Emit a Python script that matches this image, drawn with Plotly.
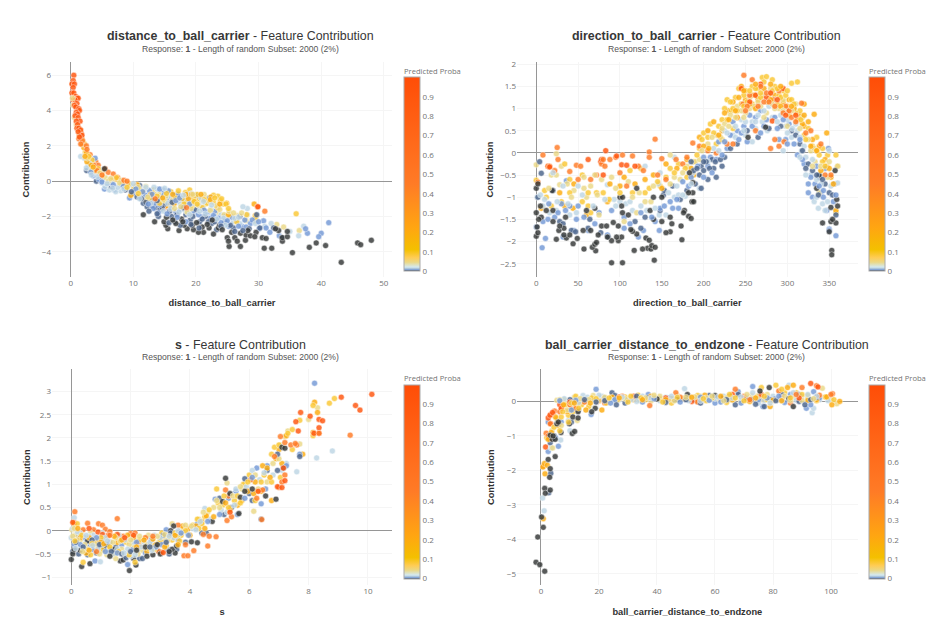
import plotly.graph_objects as go

W, H = 947, 636
features = ["distance_to_ball_carrier", "direction_to_ball_carrier", "s", "ball_carrier_distance_to_endzone"]
subtitle = "Response: <b>1</b> - Length of random Subset: 2000 (2%)"
colorbar_title = "Predicted Proba"
tick_vals = [0, 0.1, 0.2, 0.3, 0.4, 0.5, 0.6, 0.7, 0.8, 0.9]
proba_levels = {"dark": 0.0, "navy": 0.003, "blue": 0.006, "pale": 0.016, "cream": 0.045,
                "yellow": 0.085, "amber": 0.2, "orange": 0.45, "red": 0.9}
scale_colors = ["rgb(52,55,54)", "rgb(74,99,138)", "rgb(116,153,214)", "rgb(162,188,213)", "rgb(212,234,242)",
                "rgb(235,216,134)", "rgb(255,204,83)", "rgb(244,192,0)", "rgb(255,166,17)", "rgb(255,123,38)", "rgb(255,77,7)"]
scale_stops = [0, 0.003, 0.006, 0.011, 0.02, 0.045, 0.07, 0.11, 0.22, 0.45, 1]

# ---- distance_to_ball_carrier
d1_dark = [(43.2,-4.6),(35.4,-4.05),(48,-3.35),(45.8,-3.5),(46.3,-3.6),(40.7,-3.65),(38.1,-3.75),(39.2,-3.5),(32.1,-3.8),(30.9,-3.8),(25.3,-3.7),(27.1,-3.7),(25,-3.2),(25.2,-3.4),(26.2,-3.2),(26.6,-3.4),(27.9,-3.35),(30.6,-3.2),(31.2,-3.25),(33.8,-3.4),(33.8,-3.2),(34.6,-3.15),(34.6,-2.85),(29.6,-2.9),(28,-3.05),(28.7,-3.1),(29.4,-3.15),(25.7,-2.9),(27.1,-2.95),(22.8,-3),(21.2,-2.9),(20.4,-2.9),(19.6,-2.75),(18.6,-2.7),(17.3,-2.8),(15.5,-2.7),(15.2,-2.5),(13.4,-2.3),(11.6,-1.9),(14.9,-2.3),(15.3,-2.05),(17.7,-2.15),(18.1,-2.5),(19.4,-2.5),(21,-2.6),(22.1,-2.65),(23.6,-2.65),(23.8,-2.5),(5.4,0.7),(33.2,-2.8),(32.7,-2.7),(16.8,-2.4),(20.1,-2.35),(21.8,-2.45),(24.2,-2.75),(28.3,-2.8),(17.9,-2.3),(22.6,-2.2),(16.3,-2.2)]
d1_navy = [(13.6,-1.5),(14.3,-1.6),(11.6,-1.25),(12.2,-1.45),(16.1,-2),(16.6,-2.3),(19.1,-2.2),(20.6,-2.3),(22.5,-2.4),(23.3,-2.75),(26,-2.65),(32.4,-2.65),(33.7,-3.2),(8.7,-.5),(4.1,0),(2.55,.6),(6.5,-.3),(11,-.25),(14.8,-.85),(12.9,-1.05),(20,-1.6),(27,-2),(30.2,-2.65),(29.7,-1.9),(15,-1.3),(13,-1.4),(18.4,-1.9),(21.5,-2),(24.6,-2.3),(10.6,-.9),(11.3,-1),(12,-1.2),(14.6,-1.5),(15.8,-1.7),(17,-1.9),(19.5,-2),(21,-2.15),(23,-2.3),(25.5,-2.5),(28.5,-2.7),(16.2,-1.2),(18,-1.5),(13.8,-1.1),(9.7,-.6),(14,-2),(15.7,-2.35),(17.5,-2.5),(19.2,-2.45),(20.5,-2.65),(22,-2.3),(24,-2.55),(26.2,-2.85),(27.5,-2.8),(12.5,-1.7),(13.8,-1.85)]
d1_blue = [(41.2,-2.35),(40,-2.95),(39.6,-3.15),(37.8,-2.95),(37.5,-2.7),(33.3,-3.1),(30.8,-2.25),(30.1,-2.7),(31.2,-2.65),(28.7,-2.4),(27.3,-2.55),(25.2,-2.55),(22.3,-2.1),(21,-2),(16.1,-1.45),(14.8,-.5),(13.2,-.7),(10,-.7),(9.4,-.95),(7,-.5),(5.4,-.45),(3.6,.3),(3.9,1.3),(18,-1.1),(16.5,-.8),(19.5,-1.7),(12,-.8),(14,-1),(15.5,-1),(17.5,-1.6),(20.5,-1.4),(23,-1.7),(24.5,-2),(26.5,-2.2),(29,-2.2),(28,-2.6),(31.8,-2.9),(11,-.4),(4.5,.1),(6,-.1),(13.4,-1.25),(15,-.75),(16.8,-1.75),(18.8,-1.85),(20,-.8),(21.8,-1.75),(23.6,-2.1),(25.8,-2.05),(27.8,-2.2),(17.2,-.75),(18.9,-.75),(22.2,-.95),(12.6,-.55),(14.2,-1.35),(10.4,-.45),(8.4,-.3),(6.8,-.2),(5,-.05),(3.2,.5),(11.5,-.6),(13,-.75),(14.2,-.45),(15.6,-.55),(16.8,-1.1),(17.4,-.95),(19,-1.3),(20.4,-1.9),(21.3,-1.65),(22.8,-1.95),(24,-2.35),(25,-2.25),(26.8,-2.55),(18.4,-2.3),(17,-2.05),(15.4,-1.85),(14,-1.8),(13.2,-1.55),(12.4,-1.3),(30,-2.3)]
d1_pale = [(35,-2.85),(36.4,-3.1),(37.2,-2.55),(28.2,-1.55),(28.2,-1.9),(27.5,-1.45),(32,-2.4),(31,-2.55),(26,-2.3),(24,-1.9),(22,-1.8),(20,-1.75),(18.5,-1.4),(17,-1.2),(14.5,-.7),(13,-.9),(11.5,-.75),(10.5,-.55),(9,-.4),(8,-.55),(7.2,-.6),(6.2,-.5),(5.5,-.3),(4.8,.1),(4,.5),(3.5,.7),(2.8,.9),(2.2,1.3),(1.6,1.4),(3,1),(6.5,-.1),(8,-.2),(25,-2.2),(23,-2),(21,-1.5),(19,-1),(16,-.9),(12.5,-.5),(9.5,-.2),(7.5,-.35),(5,-.1),(29.5,-2.4),(27,-2.4),(17.5,-1.3),(15.5,-1.25),(18.2,-1.65),(19.8,-1.25),(22.4,-1.55),(24.4,-2.1),(26.2,-2.1),(20.8,-.95),(13.8,-.45),(12,-.35),(10,-.15),(8.5,-.45),(6.7,-.4),(5.8,-.15),(4.3,.25),(3.3,.35),(2.5,.75),(11,-1),(12.8,-1.25),(14.8,-1.7),(16,-1.55),(17.3,-1.75),(19,-1.9),(20.6,-1.7),(21.5,-1.85),(23.3,-2.15),(24.7,-2.5),(26.8,-2.05),(18,-.8),(19.3,-.7),(21.2,-1.15),(22.5,-1.35),(15,-.4),(13.3,-.35)]
d1_cream = [(36.5,-2.8),(34,-2.6),(32.9,-2.45),(26.5,-1.95),(28,-2.25),(25,-2.1),(23.5,-1.8),(20.5,-1.1),(17,-.7),(15.8,-.6),(12,-.3),(9,-.1),(7,.1),(5.5,.2),(4.2,.8),(3.5,1.1),(2.3,1.6),(1.9,2.2),(1.2,2.9),(.9,3.2),(.6,3.6),(.4,4.3),(.3,4.7),(18.5,-1.2),(14,-.7),(21.5,-1.3),(11,-.5),(8,.05),(6,0),(24.5,-1.9),(2.7,1.3),(3.2,.6),(16.2,-1.1),(19.2,-1.55),(22.3,-1.65),(15.2,-.85),(13.4,-.75),(10.8,-.35),(7.8,-.1),(6.4,.15),(4.7,.45),(23.2,-1.4),(17.6,-1.45),(12.3,-.9),(14.8,-1.05),(16.6,-1.55),(18.6,-1.75),(20.3,-1.35),(21.3,-.75),(22.2,-1.15),(23.8,-1.6),(25.3,-1.7),(26,-1.8),(27.3,-1.8),(19.5,-.75)]
d1_yellow = [(36,-1.85),(29.5,-2.25),(29.5,-2.05),(25.5,-1.95),(24.4,-1.3),(23.5,-.85),(22.8,-.8),(22,-.95),(20.5,-1),(19,-.5),(18.5,-.9),(16,-.6),(13.2,-.5),(11.5,-.6),(10,-.3),(8,-.2),(6.2,.05),(5,.5),(4.4,.7),(3.4,1.2),(2.4,1.7),(1.8,2.4),(2.2,2.1),(19.4,-1.4),(17.8,-1),(24.8,-1.3),(21,-1.5),(22.8,-1.2),(15,-1.1),(9.3,-.15),(12.5,-1),(7.3,.2),(2.9,1.4),(1.5,2.9),(1.1,3.1),(26.5,-2.3),(28.1,-1.9),(20.2,-.75),(19.6,-.95),(18.1,-1.3),(16.7,-.95),(14.2,-1.25),(23.9,-1.1),(21.8,-1.25),(10.8,-.7),(9,-.35),(13.8,-.85),(15.3,-.7),(17.2,-.55),(18.3,-.65),(19.7,-1.15),(21.3,-1.05),(20.2,-1.3),(23,-.95),(24.1,-1),(25.2,-1.55)]
d1_amber = [(29.3,-1.3),(29.5,-1.95),(24.9,-1.25),(21.5,-1),(20,-1),(19,-1.35),(18,-1.2),(17,-.9),(15.5,-1.4),(13.5,-.9),(12,-1.1),(9.6,-.8),(7.5,.1),(6.5,.05),(5,.3),(3.9,.6),(3.2,.9),(2.6,1.1),(2.1,1.9),(1.8,2.1),(2.5,1.6),(1.4,2.6),(4.6,.45),(8.3,-.1),(23.5,-1.5),(16.5,-1.3),(10.6,-.2),(12.8,-.75),(22.4,-.9),(19.8,-1.15),(18.8,-1),(25.2,-1.9),(3.6,.8),(2.3,1.4),(14.7,-.95),(16.3,-.75),(18.4,-.75),(20.8,-.75),(22.3,-1.05),(23.8,-1.3),(19.3,-.75)]
d1_orange = [(31,-1.7),(17,-1.1),(16,-1.3),(15,-1.5),(3.1,1.5),(3,1.1),(4,1.1),(4.4,.9),(3.7,.9),(5.5,.7),(6,.5),(6.8,.4),(7.5,.2),(4.2,.6),(1.7,2.7),(1.3,2.4),(1.9,2.3),(2.5,2),(1.6,2.1),(2.6,1.8),(8.5,.05),(9,0),(18.5,-1.5),(13.5,-1),(29.8,-1.45),(5,.35)]
d1_red = [(.5,6),(.4,5.7),(.2,5.5),(.6,5.5),(.4,5.3),(.2,5),(.5,5),(.8,4.8),(1,4.7),(1.2,4.7),(.4,4.6),(.7,4.6),(1,4.4),(.6,4.3),(.8,4.2),(1.3,4.1),(1.4,4),(.9,3.9),(1.1,3.8),(.7,3.7),(1.2,3.6),(1.5,3.4),(.9,3.4),(1.1,3.2),(1,3),(1.3,3),(1.6,2.9),(1.8,2.6),(1.2,2.8),(1.4,2.5),(29.9,-1.45)]

# ---- direction_to_ball_carrier
d2_dark = [(90,-2.48),(103,-2.48),(141,-2.42),(353,-2.2),(353,-2.3),(0,-1.88),(2,-1.8),(1,-1.67),(24,-1.95),(49,-1.93),(44,-2.05),(36,-1.92),(57,-2.17),(71,-2.21),(67,-2.13),(70,-2.06),(72,-2.02),(98,-1.98),(102,-1.9),(90,-1.98),(117,-2.2),(120,-1.83),(133,-2.15),(127,-2.17),(131,-1.92),(137,-2.17),(138,-2.09),(142,-2.13),(135,-1.97),(174,-1.96),(160,-1.78),(155,-1.8),(173,-1.65),(177,-1.3),(176,-1.35),(182,-1.43),(185,-1.48),(160,-1.45),(162,-1.6),(150,-1.55),(140,-1.5),(136,-1.3),(103,-1.35),(110,-1.4),(115,-1.77),(113,-1.73),(92,-1.57),(98,-1.65),(96,-1.9),(85,-1.9),(74,-1.85),(65,-1.75),(60,-1.3),(70,-1.25),(56,-1.75),(40,-1.85),(33,-1.7),(27,-1.75),(33,-1.85),(20,-1.55),(20,-1.3),(12,-1.3),(6,-1.45),(3,-1.5),(5,-1.2),(0,-.8),(2,-.7),(19,-.85),(0,-1.35),(352,-1.55),(358,-1.58),(354,-1.5),(352,-1.23),(360,-1.2),(359,-1.05),(357,-.4),(342,-1.58),(350,-1.78),(338,-.5),(186,-1.1),(187,-.9),(182,-.9),(188,-1.1),(150,-1),(140,-1),(100,-1),(103,-1),(102,-1.2),(120,-.8),(183,-.45),(187,-.67),(335,-.8),(274,.58),(253,.35),(35,-1.45),(28,-1.65),(78,-1.65),(84,-1.65)]
d2_navy = [(4,-.2),(6,-.46),(2,-1),(20,-.85),(28,-1.55),(32,-1.6),(42,-1.75),(47,-1.78),(62,-1.7),(64,-1.5),(77,-1.8),(86,-1.9),(118,-1.55),(125,-1.7),(130,-1.45),(148,-1.3),(152,-.95),(153,-.85),(163,-.75),(180,-.85),(185,-.2),(197,-.3),(200,-.4),(205,-.6),(212,-.35),(222,-.3),(210,-.15),(195,-.5),(190,-.7),(172,-1.05),(232,.1),(240,.2),(252,.5),(265,.35),(292,.6),(305,.5),(315,.2),(325,-.25),(330,-.4),(338,-.55),(345,-.7),(350,-.9),(354,-.95),(358,-1.4),(197,-.8),(203,-.2),(215,-.55),(225,-.1),(278,.55),(310,.4),(200,-.2),(207,-.35),(214,-.2),(220,-.15),(188,-.4),(192,-.35),(318,.05),(322,-.35),(335,-.5),(342,-.6),(337,-.95)]
d2_blue = [(11,-1.93),(7,-2.14),(36,-.63),(0,-1.67),(8,-1.55),(14,-1.5),(32,-1.9),(45,-1.75),(62,-1.75),(75,-1.35),(85,-1.85),(105,-1.45),(122,-1.9),(128,-1.75),(142,-1.55),(147,-1.75),(163,-1.25),(170,-1.25),(358,-1.87),(350,-1.72),(350,-1.75),(349,.1),(356,-.7),(355,-1.1),(347,-1.3),(340,-.9),(330,-1),(325,-.9),(320,-.25),(312,-.05),(298,.3),(290,.3),(272,.6),(262,.8),(255,.85),(248,.6),(240,.5),(235,.7),(228,.1),(218,.25),(208,-.1),(200,-.1),(193,-.3),(182,-.75),(175,-.65),(160,-1.1),(148,-1.25),(112,-1.6),(50,-1.2),(40,-1.2),(30,-1.15),(22,-1.45),(302,.65),(285,.8),(268,.95),(345,-.35),(335,-.3),(258,.6),(245,.45),(232,.4),(225,.25),(215,-.15),(205,-.3),(275,.75),(295,.75),(308,.2),(318,-.15),(328,-.55),(333,-.7),(343,-.85),(15,-1.15),(26,-1.35),(35,-1.3),(48,-1.5),(57,-1.45),(70,-1.6),(90,-1.3),(105,-1.7),(125,-1.35),(138,-1.45),(153,-1.2),(168,-1.05),(185,-.55),(200,-.55),(210,-.45),(222,-.05),(242,.3),(252,.25),(268,.45),(288,.55),(300,.2),(315,.3),(325,-.7),(338,-.75),(343,-1),(358,-.95)]
d2_pale = [(1,-1),(8,-1.2),(16,-1.35),(24,-1.3),(40,-1.4),(48,-1.35),(50,-.75),(85,-.72),(93,-1.05),(100,-1.1),(107,-1.15),(115,-1.3),(132,-1.3),(147,-1.4),(155,-1.4),(165,-1),(178,-.98),(170,-.95),(130,-.3),(146,-.7),(148,-.45),(165,-.1),(20,-.45),(32,-.75),(5,-.95),(10,-1.05),(250,.4),(258,.25),(262,.55),(270,.7),(282,.8),(295,.05),(298,.6),(305,.35),(310,.65),(317,.05),(322,-.1),(328,-.5),(332,-1.1),(337,-1.25),(345,-1.3),(352,-.75),(360,-.68),(350,.05),(225,.5),(235,.4),(245,.75),(258,.7),(278,1.05),(285,1.2),(212,.1),(205,-.2),(187,-.45),(195,-.8),(175,-.95),(250,.7),(265,.85),(272,.95),(292,.85),(300,.75),(312,.5),(238,.6),(228,.45),(218,.05),(335,-1.0),(322,-.5),(315,-.1),(340,-.7),(238,.35),(248,.5),(262,.7),(276,.5),(288,.7),(300,.45),(306,.55),(315,.35),(320,.15),(330,-.15),(335,-.6),(342,-1.15),(348,-1.1),(25,-1.1),(38,-1.15),(55,-.95),(68,-1.2),(82,-1.05),(95,-1.2),(112,-1.1),(125,-1.2),(142,-1.25),(158,-.9),(168,-.75),(185,-.7)]
d2_cream = [(0,-.27),(24,-.02),(30,-.3),(18,-.5),(24,-.5),(28,-.72),(37,-.7),(45,-.85),(57,-.55),(57,-.8),(60,-1),(73,-.95),(75,-1.4),(78,-.6),(70,-.5),(90,-.55),(110,-.65),(123,-.9),(130,-1.1),(137,-1.1),(120,-1.35),(105,-1.55),(160,-.05),(165,-.55),(172,-.6),(180,-.3),(190,-.2),(195,-.15),(205,.2),(215,.4),(225,.65),(232,.85),(240,1.05),(250,.9),(255,1),(265,1.15),(275,.9),(290,1),(300,.9),(310,1.1),(318,.8),(325,.3),(333,-.2),(338,-.9),(348,-.55),(360,-.3),(255,1.25),(270,1.3),(280,1.45),(295,1.2),(245,.95),(260,1.05),(282,1.1),(300,.6),(285,1),(238,.8),(222,.55),(210,.35),(198,.05),(328,.05),(332,.1),(220,.35),(230,.6),(248,.8),(268,1.05),(272,.8),(295,.95),(305,.95),(315,.55),(330,-.3),(340,-.3),(350,-.2),(15,-.8),(42,-1),(65,-.75),(95,-.8),(115,-1),(140,-.75),(160,-.7),(175,-.45)]
d2_yellow = [(0,-.62),(10,-.85),(12,-1),(18,-1.2),(30,-1.1),(34,-.25),(40,-.6),(55,-.5),(55,-1.1),(62,-1.2),(65,-1.35),(72,-.9),(87,-1.05),(112,-.4),(125,-.35),(130,-.9),(148,-.75),(155,-.55),(160,-.35),(170,-.25),(180,-.55),(188,-.2),(195,.1),(200,.45),(208,.65),(215,.2),(222,.75),(228,1.2),(233,.95),(238,1.25),(242,1.45),(250,1.4),(258,1.5),(262,1.3),(270,1.7),(275,1.72),(272,1.6),(282,1.65),(285,1.5),(305,1.57),(312,1.6),(295,1.4),(305,1.2),(315,.95),(325,.55),(335,.35),(342,.1),(348,-.05),(358,-.05),(360,-.3),(358,-1.35),(245,1.1),(258,1.1),(278,1.3),(290,1.3),(300,1.05),(265,1.45),(235,.55),(222,.3),(205,.35),(248,1.3),(252,1.15),(268,1.25),(276,1.15),(288,1.1),(292,1.25),(302,.85),(310,.9),(240,.95),(228,.75),(218,.6),(212,.45),(198,.3),(320,.4),(330,.15),(338,-.05),(342,-.2),(232,1.15),(225,1),(235,1),(248,1.05),(255,1.4),(262,1.45),(268,1.35),(282,1.4),(298,1.3),(288,1.45),(300,1.4),(308,1.1),(316,.75),(322,.3),(335,.05),(345,-.3),(40,-.9),(62,-.9),(80,-.9),(100,-.9),(115,-.9),(135,-.8),(145,-.65),(165,-.45),(178,-.35),(192,-.05)]
d2_amber = [(6,-1.25),(28,-.9),(34,-1.2),(44,-1.25),(45,-.7),(60,-1.4),(85,-1.1),(88,-.7),(100,-.75),(105,-.55),(118,-.7),(130,-.6),(140,-.5),(155,-.25),(180,-.15),(188,-.5),(195,.35),(205,.5),(222,.5),(230,.95),(235,1.15),(245,1.5),(250,1.2),(258,1.3),(265,1.2),(272,1.45),(285,1.3),(295,1.15),(302,1.2),(315,.85),(320,.6),(330,.3),(338,.15),(345,-.15),(352,-.55),(358,-1.3),(320,1.1),(332,.87),(325,.7),(347,.45),(347,-.3),(355,-.7),(240,.8),(212,.7),(200,.15),(185,-.35),(168,-.35),(150,-.8),(242,1.25),(255,1.1),(262,1),(280,1.2),(292,1.05),(308,1),(312,.75),(318,.65),(328,.15),(225,.9),(218,.4),(206,.1),(340,-.4),(350,-.35),(230,.75),(238,.95),(248,1.4),(262,1.55),(280,1.55),(292,1.5),(305,1.05),(320,.85),(335,.05)]
d2_orange = [(25,.12),(8,-.05),(2,-.66),(14,-.3),(16,-.3),(26,-.15),(22,-.4),(40,-.42),(48,-.28),(53,-.3),(50,-.6),(65,-.6),(72,-.5),(78,-.25),(82,-.3),(80,-.15),(88,-.15),(95,-.1),(100,-.45),(103,-.05),(115,-.07),(108,-.75),(135,.02),(135,-.1),(142,.31),(150,-.13),(122,-.3),(128,-.4),(145,-.5),(155,-.6),(167,-.15),(175,-.25),(180,-.1),(187,.22),(195,.15),(205,.05),(215,0),(228,.2),(240,.8),(247,1.1),(248,1.75),(255,1.3),(258,1.65),(268,1.5),(275,1.35),(283,1.2),(290,1.4),(298,1.05),(305,.8),(317,1.12),(328,.5),(340,.2),(285,.3),(280,.1),(290,.15),(296,.25),(352,-.5),(345,-.5),(262,.5),(235,.2),(252,1.05),(265,1.05),(272,1.15),(278,1.15),(285,1.05),(295,.9),(302,.95),(310,.7),(322,.45),(250,.95)]
d2_red = [(14,-.3),(16,-.32),(62,-.15),(77,-.2),(78,-.15),(83,.05),(96,-.07),(80,-.5),(102,-.27),(108,-.28),(118,-.3),(245,1.45),(262,1.3),(268,1.55),(275,1.25),(295,1.45),(282,.72),(303,.95),(310,.85),(255,1.15),(280,1.35),(288,1.2),(298,.85)]

# ---- s
d3_dark = [(.35,-.77),(.63,-.71),(1.96,-.86),(2.18,-.74),(1.65,-.65),(1.75,-.63),(2.1,-.6),(0,-.62),(.05,-.5),(.3,-.42),(.55,-.22),(.1,-.4),(1.1,-.35),(1.45,-.4),(2.55,-.55),(2.75,-.52),(3,-.5),(3.5,-.48),(3.4,-.4),(3.3,-.45),(3.55,-.33),(4.05,-.24),(4.25,-.26),(3.45,.1),(3.35,0),(4.75,.2),(5.2,1.13),(5.35,.8),(5.1,.63),(5.65,.37),(6.1,.9),(6.55,.75),(6.9,.68),(7.1,1.8),(7.2,1.78),(5.85,.85),(5.7,.72),(2.9,-.3),(2.5,-.35),(2.2,-.42),(1.3,-.55)]
d3_navy = [(.05,-.45),(.25,-.5),(.55,-.52),(.85,-.48),(1.1,-.2),(1.5,-.35),(1.85,-.58),(2.3,-.6),(2.4,-.6),(2.95,-.45),(3.3,-.5),(3.55,-.4),(3.85,-.25),(4.4,-.05),(4.55,-.05),(5,.7),(5.15,.35),(5.4,.5),(5.85,1.12),(6,.8),(6.4,.25),(6.1,.65),(6.6,1.3),(6.95,1.3),(7.15,1.35),(7.7,1.6),(6.95,1.65),(3.1,-.1),(3.35,-.05),(1.2,-.3),(.15,-.25),(.4,-.35),(.7,-.2),(.95,-.3),(1.35,-.45),(1.7,-.5),(2,-.45),(2.65,-.35),(3.2,-.25)]
d3_blue = [(8.2,3.18),(1.9,-.73),(.8,-.65),(.2,-.1),(.45,-.15),(.6,-.3),(1,-.35),(1.3,-.25),(1.7,-.3),(2.05,-.4),(2.5,-.48),(3.25,-.4),(3.6,-.2),(3.2,.02),(4.25,.15),(4.85,.68),(5.3,.7),(5.6,.35),(5.55,.85),(6.25,1.35),(6.55,.9),(6.6,1.4),(7.25,1.4),(7.7,1.65),(.1,-.3),(.7,-.4),(2.7,-.2),(5,.35),(6.4,.58),(.3,-.3),(.85,-.15),(1.15,-.45),(1.55,-.48),(2.2,-.25),(2.85,-.35),(3.05,-.3),(3.7,-.05),(3.95,-.1),(4.6,.2),(5.85,.7),(6.1,1.15)]
d3_pale = [(8.8,1.72),(8.27,1.57),(7.6,1.27),(7.25,1.45),(7.1,1.3),(.98,-.67),(.1,.28),(.05,.05),(0,-.15),(.3,-.05),(.5,-.25),(.75,-.1),(1.05,-.05),(1.4,-.5),(1.6,-.1),(1.8,-.2),(2,-.55),(2.2,-.45),(2.45,-.25),(2.8,-.1),(3.15,-.3),(3.45,-.15),(3.9,-.05),(4.1,.05),(4.5,.48),(4.7,.25),(5.25,.4),(5.55,.9),(5.9,.95),(6.1,1.3),(6.35,1.1),(6.8,1.2),(2.05,-.25),(1.25,-.45),(.4,-.38),(5.05,.45),(.2,-.02),(.6,-.12),(.9,-.4),(1.15,-.15),(1.55,-.4),(1.9,-.4),(2.35,-.35),(2.65,-.25),(3,-.15),(3.6,0),(4.35,.2),(5.5,.55),(6.5,1.25),(.15,-.38),(.5,-.1),(.72,-.32),(1.22,-.22),(1.78,-.48),(2.15,-.52),(2.72,-.42),(3.3,-.12),(4.2,.02)]
d3_cream = [(8.3,2.65),(8,2.4),(7.3,2.15),(7.2,2.03),(7.7,1.87),(7.05,1.85),(.02,.02),(.12,-.1),(.3,-.2),(.65,-.05),(.9,-.2),(1.2,-.52),(1.5,-.6),(1.7,-.4),(2.1,-.3),(2.4,-.42),(2.6,-.1),(2.95,-.25),(3.1,-.15),(3.4,.15),(3.7,.05),(4.3,.25),(4.6,.4),(4.8,.5),(5.25,1.03),(5.75,.9),(5.85,1),(6.05,1.1),(6.3,.9),(6.6,1.05),(6.8,1.45),(7,1.55),(6.15,.42),(.05,-.12),(.45,-.3),(1.4,-.25),(2.25,-.5),(3.85,.12),(.2,-.2),(.55,-.4),(.8,-.28),(1.05,-.3),(1.65,-.22),(1.95,-.3),(2.55,-.3),(3.25,-.2),(3.6,-.1),(4.05,.1),(5,.5),(5.45,.75),(6.2,1.2),(.1,.05),(.38,-.45),(.95,-.5),(1.5,-.15),(2,-.2),(2.3,-.12),(2.9,-.12),(3.15,-.08),(4.45,.4),(4.9,.65),(5.7,.95)]
d3_yellow = [(8.7,2.75),(8.87,2.85),(8.15,2.7),(7.7,2.38),(7.45,1.75),(7.45,2.18),(7.3,2.1),(8.15,2.05),(.4,-.68),(.65,-.52),(.2,.15),(.8,-.35),(1.2,-.15),(1.45,-.5),(1.85,-.25),(2.15,-.68),(2.5,-.15),(2.7,-.3),(3.05,-.05),(3.4,-.2),(3.7,-.1),(4.1,.12),(4.25,.25),(4.5,.3),(4.9,.9),(4.95,.6),(5.1,.55),(5.5,.65),(5.8,1),(6,1.2),(6.25,.85),(6.5,1.2),(6.75,1.05),(6.85,1.8),(7,1.85),(6.75,1.65),(7.05,1.15),(6.2,.65),(5.3,.5),(3,-.2),(1.05,-.42),(4.65,.45),(.35,-.1),(1,-.15),(1.6,-.45),(2.3,-.2),(2.8,-.4),(3.5,-.05),(3.85,0),(4.4,.15),(5.6,.75),(6.4,1.05),(5.95,1.05),(.12,-.22),(.7,-.28),(1.3,-.35),(1.95,-.52),(2.6,-.38),(3.2,-.32),(3.65,-.22),(4.3,.05),(5.15,.75),(5.7,.6)]
d3_amber = [(8.2,2.77),(8.3,2.55),(8.15,2.12),(7.8,1.65),(7.25,2.05),(7,1.75),(6.9,1.55),(7.1,1.45),(.1,.15),(.3,-.15),(.5,-.48),(.85,-.25),(1.3,-.4),(1.55,-.25),(1.9,-.1),(2.3,-.3),(2.55,-.45),(2.85,-.3),(3.05,-.25),(3.3,-.1),(3.75,.1),(3.95,.05),(4.2,.1),(4.4,.2),(4.55,.32),(5.35,.45),(5.6,.55),(5.95,.85),(6.2,1.05),(6.4,.85),(6.45,1.4),(6.7,1.15),(6.75,.65),(6.15,.8),(4.8,.3),(6.6,1.35),(.6,-.15),(1.7,-.2),(1,-.25),(2.1,-.15),(2.45,-.2),(3.5,-.1),(4,-.1),(5.2,.6),(5.75,.65),(.22,.05),(.6,-.42),(1.1,-.28),(1.45,-.12),(2.2,-.35),(2.75,-.18),(3.15,-.35),(3.6,-.3),(4.5,.05)]
d3_orange = [(.12,.41),(.55,.16),(.92,.15),(1.05,.12),(1.55,.26),(.1,.17),(.4,.02),(.75,.02),(1.15,.03),(1.3,-.02),(1.6,-.1),(1.75,-.12),(2,-.06),(2.15,-.05),(2.5,-.15),(2.25,-.25),(3.05,-.47),(2.95,-.45),(3.8,-.54),(3.93,-.54),(4.13,-.43),(4.6,-.33),(4.88,-.13),(4.65,-.12),(4.45,-.08),(3.6,.12),(3.85,-.3),(6.42,.24),(5.25,.22),(5.4,.3),(5.2,.88),(5.3,.75),(6.05,1.1),(6.25,.7),(6.45,.88),(7,.93),(7.2,1.2),(7.1,1.05),(7.05,2.03),(6.85,1.6),(7.6,1.85),(7.2,1.9),(7.4,1.85),(7.55,1.88),(9.4,2.06),(8.35,2.1),(.85,-.45),(1.3,-.1),(2.75,-.12)]
d3_red = [(10.13,2.94),(9.1,2.88),(9.58,2.7),(9.73,2.6),(7.73,2.55),(8.05,2.47),(7.57,2.35),(8.35,2.4),(8.47,2.37),(8.35,2.22),(8.35,2.1),(7.65,2.15),(8.18,2.1),(.05,.18),(.6,.05),(.9,-.03),(1.05,-.08),(1.25,-.1),(1.55,-.08),(1.8,-.15),(2.1,-.1),(3.1,-.47),(6.95,.95),(7.15,1.35),(7.2,1.08),(7.1,.93),(5.35,.4),(6.3,.85)]

# ---- ball_carrier_distance_to_endzone
d4_dark = [(-1.7,-4.66),(-.4,-4.73),(1.3,-4.92),(-1.1,-3.93),(.8,-3.65),(.2,-3.35),(1.3,-2.52),(1.5,-2.66),(3.2,-2.57),(3,-2.2),(3.2,-1.95),(2.5,-1.68),(4.9,-1.6),(3.9,-1.1),(4.9,-1.1),(6.9,-.9),(10.8,-.93),(11.6,-.87),(9.8,-.65),(11,-.45),(12.8,-.48),(12.8,-.3),(5.5,-.65),(6,-.6),(18.7,-.2),(17.5,-.3),(50.5,.2),(60,.17),(40,.07),(47,.05),(87,-.15),(85.5,.08),(78.7,.4),(75.5,.3),(3.2,-.98),(4.2,-1)]
d4_navy = [(2.7,-2.65),(3.4,-2.08),(4.6,-1),(3.2,-1.2),(10,.05),(10.5,-.6),(12.9,-.25),(24.5,.25),(25.5,.17),(29,-.05),(34,.05),(37,.12),(41,.05),(46,.05),(58,.17),(62,.1),(67,-.1),(70.5,.1),(72.5,.05),(77,-.15),(79,.05),(83,.2),(89,0),(93,.05),(95,.12),(26,-.1),(19,-.02),(68,.2),(50,.05),(15,.05),(22,.02),(33,.15),(43,-.03),(55,-.05),(64,.05),(74,-.08),(81,.02),(91,-.1)]
d4_blue = [(2.5,-1.45),(6,-1.3),(2.5,-.6),(7,-.6),(5,-1.05),(17.3,-.38),(19,.35),(22,.1),(32,.13),(37,.2),(44,.1),(53,.05),(60,-.05),(68,.28),(73,.43),(76.5,-.15),(80.5,.07),(89,.2),(94,.28),(96,.1),(91.5,-.2),(93,-.1),(30,.03),(55,.12),(75,.05),(86,.2),(84,-.03),(25.5,.05),(65,.15),(10.5,-.25),(6.5,.02),(12,.03),(24,-.05),(35,-.02),(39,.08),(48,-.02),(58,.03),(62,-.02),(69,-.05),(78,.1),(82,.15)]
d4_pale = [(.6,-2.8),(1.1,-3.17),(3.5,-1.35),(6.8,-1.12),(10,-.85),(9.5,-.55),(14.5,.17),(16,.12),(21,.15),(27,.05),(35,.15),(43,.12),(49.5,.37),(52,.1),(63,.15),(71,.12),(80,.15),(85.5,.47),(90,.15),(93.5,-.33),(94,-.2),(96,.05),(99,.02),(13,-.03),(18,.05),(41,.02),(58,.08),(77,.03),(88,.03),(75,-.05),(8,.08),(11,-.05),(20,.18),(25,.03),(31,.05),(38,.1),(47,.1),(51,.02),(60,.08),(66,.1),(73,.25),(83,.03),(87,.25),(92,.2),(28,.12),(33,0),(45,.15),(55,.02),(61,.13),(69,.12),(79,-.05),(95,.15)]
d4_cream = [(5.5,.03),(8,.05),(11.5,.12),(15,.02),(18,.17),(23,.03),(26,.02),(31,.12),(38,.02),(47,.17),(55,.15),(61,.05),(66,.03),(72.5,.17),(82,.05),(87,.12),(92,.08),(97,.38),(102,-.07),(100,.05),(4,-1.35),(7,-.7),(9,-.25),(12.5,-.55),(3.8,-.85),(20,.02),(34,.03),(44,.05),(53,.13),(69,.02),(78,.2),(6.5,.05),(13.5,.08),(16.5,.05),(22,.12),(29,.08),(36,.1),(41,.15),(57,.1),(64,.1),(75,.15),(84,.15),(90,.03),(27.5,.1),(39,.18),(46,.02),(50,.12),(59,.15),(63,.02),(71,.2),(86,.03),(94,.08)]
d4_yellow = [(2,-1.05),(5.5,-.5),(8.5,-.1),(11,-.3),(14,-.1),(7,-.45),(9.5,-.4),(16.5,-.15),(20.5,.13),(24.5,.15),(29,.13),(33.5,.18),(39,.12),(45,-.05),(49,.1),(54,.17),(57,.02),(64,-.03),(71,.03),(74.5,.15),(76,.4),(81,.47),(84,.25),(88,.25),(92,.17),(95,.02),(98,.13),(101,.05),(7.5,-.3),(12,.15),(17.5,.1),(26.5,.05),(36,.05),(9.5,-.6),(6.5,-.85),(4.5,-.75),(10.5,-.05),(13,-.2),(19,.08),(22.5,-.05),(31,.15),(41,.08),(51,.1),(59,.1),(67,.1),(78,.05),(83,.35),(90,.2),(23.5,.1),(30,-.02),(34.5,.1),(42,-.02),(47,.12),(56,.08),(65,.2),(70,.02),(77,.15),(86,.1)]
d4_amber = [(.8,-3.4),(1.4,-2.1),(.7,-1.9),(1.2,-1.8),(2.2,-1.85),(2.5,-1.1),(5,-.45),(6,-.7),(9,-.3),(10.5,-.15),(12,-.2),(13,-.05),(15.5,-.25),(21,-.25),(24.5,.12),(32,.05),(38,.15),(45,.08),(49,.08),(54,.02),(56.5,.18),(61,.1),(72,0),(76.5,.05),(80,.03),(85,.4),(87,.47),(92,.03),(95,.05),(100.3,-.1),(103,0),(98.5,.13),(79,-.15),(66,.05),(43,.05),(3.6,-.9),(7.8,-.1),(11.5,-.05),(17,-.05),(27,.1),(35,.05),(52,.12),(62,.15),(74,.1),(83,.02)]
d4_orange = [(.8,-1.88),(1.8,-.92),(2.5,-1),(3,-1.08),(3.2,-.65),(3.5,-.38),(4.7,-.28),(6.5,-.3),(7.2,-.2),(10,-.1),(12,-.2),(15,-.02),(19.5,0),(22,-.05),(28,.15),(37.5,-.12),(46.5,.25),(48,.12),(54,-.02),(67,.35),(70,.15),(72,.05),(82,.3),(83,.1),(86,-.05),(90,.4),(95,.45),(96,.18),(100.5,.22),(100,.2),(88,.2)]
d4_red = [(1.6,-1.32),(2.5,-.48),(3.4,-.65),(3.1,-.4),(4,-.32),(6.5,-.1),(7,-.2),(10,-.02),(20,.02),(32,.15),(27,.13),(43,.1),(52,0),(66,.2),(93,.52),(95.5,.42),(76,.2),(89,.1)]

panels = [
    dict(name=features[0], groups=dict(dark=d1_dark, navy=d1_navy, blue=d1_blue, pale=d1_pale, cream=d1_cream, yellow=d1_yellow, amber=d1_amber, orange=d1_orange, red=d1_red),
         box=(52, 392, 62, 277), xr=(-2.98, 51.3), yr=(-5.43, 6.75), dy=2, x_dtick=10, title_y=36.5, sub_y=48.7, title_x=240.5, ystand=10, xstand=12),
    dict(name=features[1], groups=dict(dark=d2_dark, navy=d2_navy, blue=d2_blue, pale=d2_pale, cream=d2_cream, yellow=d2_yellow, amber=d2_amber, orange=d2_orange, red=d2_red),
         box=(517, 857.7, 62, 277), xr=(-23, 384), yr=(-2.8, 2.05), dy=0.5, x_dtick=50, title_y=36.5, sub_y=48.7, title_x=706.5, ystand=4, xstand=12),
    dict(name=features[2], groups=dict(dark=d3_dark, navy=d3_navy, blue=d3_blue, pale=d3_pale, cream=d3_cream, yellow=d3_yellow, amber=d3_amber, orange=d3_orange, red=d3_red),
         box=(52, 392, 369.3, 585), xr=(-0.65, 10.81), yr=(-1.17, 3.48), dy=0.5, x_dtick=2, title_y=344.7, sub_y=356.7, title_x=240.5, ystand=2, xstand=13),
    dict(name=features[3], groups=dict(dark=d4_dark, navy=d4_navy, blue=d4_blue, pale=d4_pale, cream=d4_cream, yellow=d4_yellow, amber=d4_amber, orange=d4_orange, red=d4_red),
         box=(517, 857.7, 369.3, 585), xr=(-8.26, 109.2), yr=(-5.32, 0.93), dy=1, x_dtick=20, title_y=344.7, sub_y=356.7, title_x=706.5, ystand=10, xstand=13),
]

colorscale = [[s, c] for s, c in zip(scale_stops, scale_colors)]
GRID = "#f5f5f5"
TICK = dict(size=8, color="rgb(115,115,115)", family="Open Sans, sans-serif")
fig = go.Figure()
annotations = []

for i, p in enumerate(panels):
    suffix = "" if i == 0 else str(i + 1)
    # mix the colour groups evenly through the drawing order, so that none sits wholly on top
    layered = []
    for g, pts in p["groups"].items():
        for k, pt in enumerate(pts):
            layered.append(((k + 0.5) / len(pts), pt[0], pt[1], proba_levels[g]))
    layered.sort(key=lambda row: row[0])
    xs = [row[1] for row in layered]
    ys = [row[2] for row in layered]
    cs = [row[3] for row in layered]
    l, r, t, b = p["box"]
    fig.add_trace(go.Scatter(
        x=xs, y=ys, mode="markers", xaxis="x" + suffix, yaxis="y" + suffix, showlegend=False,
        hovertemplate="%{x}<br>%{y}<extra></extra>",
        marker=dict(
            size=6, color=cs, cmin=0, cmax=1.0, colorscale=colorscale, opacity=0.82,
            line=dict(color="white", width=0.5), showscale=True,
            colorbar=dict(
                x=(r + 11.5) / W, xanchor="left", xpad=0, ypad=0,
                y=1 - (t + 15.3) / H, yanchor="top", len=194.4, lenmode="pixels",
                thickness=16, thicknessmode="pixels", outlinecolor="rgb(170,170,170)", outlinewidth=1,
                tickvals=tick_vals, ticks="", tickfont=TICK, ticklabelposition="outside",
            ),
        ),
    ))
    fig.layout["xaxis" + suffix] = dict(
        domain=[l / W, r / W], range=list(p["xr"]), anchor="y" + suffix, dtick=p["x_dtick"], tick0=0,
        showgrid=True, gridcolor=GRID, zeroline=True, zerolinecolor="rgb(150,150,150)", zerolinewidth=1,
        showline=False, ticks="", tickfont=TICK,
        title=dict(text="<b>%s</b>" % p["name"], standoff=p["xstand"], font=dict(size=9.3, color="rgb(50,50,50)", family="Liberation Sans, Arial, sans-serif")),
    )
    fig.layout["yaxis" + suffix] = dict(
        domain=[1 - b / H, 1 - t / H], range=list(p["yr"]), anchor="x" + suffix, dtick=p["dy"], tick0=0,
        showgrid=True, gridcolor=GRID, zeroline=True, zerolinecolor="rgb(150,150,150)", zerolinewidth=1,
        showline=False, ticks="", tickfont=TICK,
        title=dict(text="<b>Contribution</b>", standoff=p["ystand"], font=dict(size=9.3, color="rgb(50,50,50)", family="Liberation Sans, Arial, sans-serif")),
    )
    annotations.append(dict(
        x=p["title_x"] / W, y=1 - p["title_y"] / H, xref="paper", yref="paper", xanchor="center", yanchor="middle",
        showarrow=False, text="<b>%s</b> - Feature Contribution" % p["name"],
        font=dict(size=12.4, color="rgb(55,55,55)", family="Liberation Sans, Arial, sans-serif"),
    ))
    annotations.append(dict(
        x=p["title_x"] / W, y=1 - p["sub_y"] / H, xref="paper", yref="paper", xanchor="center", yanchor="middle",
        showarrow=False, text=subtitle,
        font=dict(size=8.6, color="rgb(85,85,85)", family="Liberation Sans, Arial, sans-serif"),
    ))
    annotations.append(dict(
        x=(r + 11.5) / W, y=1 - (t + 8.7) / H, xref="paper", yref="paper", xanchor="left", yanchor="middle", xshift=-2,
        showarrow=False, text=colorbar_title,
        font=dict(size=7.6, color="rgb(115,115,115)", family="Open Sans, sans-serif"),
    ))

fig.update_layout(
    width=W, height=H, margin=dict(l=0, r=0, t=0, b=0, autoexpand=False), paper_bgcolor="white", plot_bgcolor="white",
    annotations=annotations, font=dict(family="Open Sans, sans-serif"),
)
fig.write_html("out.html", config=dict(displayModeBar=False),
               post_script="document.body.style.margin='0';document.body.style.overflow='hidden';")
